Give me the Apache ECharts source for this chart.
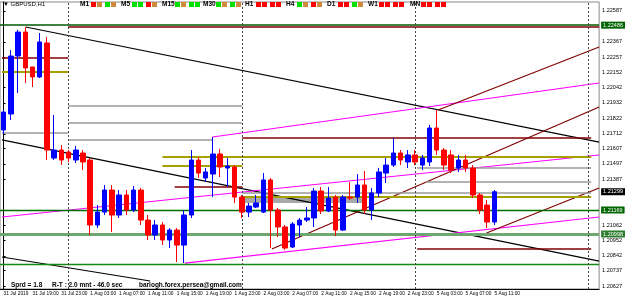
<!DOCTYPE html>
<html>
<head>
<meta charset="utf-8">
<script src="https://cdn.jsdelivr.net/npm/echarts@6/dist/echarts.min.js"></script>
<style>
html,body{margin:0;padding:0;background:#fff}
#chart{width:625px;height:299px}
</style>
</head>
<body>
<div id="chart"></div>
<script>
// GBPUSD H1, 31 Jul 15:00 .. 5 Aug 11:00  [open, close, low, high]
var candles = [
  [1.21739, 1.21867, 1.21710, 1.21881],
  [1.21853, 1.22266, 1.21810, 1.22309],
  [1.22266, 1.22437, 1.22003, 1.22452],
  [1.22437, 1.22181, 1.22074, 1.22473],
  [1.22188, 1.22117, 1.22045, 1.22188],
  [1.22117, 1.22366, 1.22109, 1.22430],
  [1.22359, 1.21596, 1.21525, 1.22402],
  [1.21539, 1.21596, 1.21525, 1.21846],
  [1.21596, 1.21525, 1.21489, 1.21632],
  [1.21582, 1.21539, 1.21511, 1.21596],
  [1.21525, 1.21596, 1.21504, 1.21625],
  [1.21575, 1.21511, 1.21454, 1.21596],
  [1.21525, 1.21062, 1.20991, 1.21539],
  [1.21062, 1.21154, 1.21040, 1.21204],
  [1.21154, 1.21311, 1.21133, 1.21347],
  [1.21311, 1.21133, 1.21012, 1.21347],
  [1.21133, 1.21276, 1.21112, 1.21311],
  [1.21276, 1.21169, 1.21133, 1.21311],
  [1.21169, 1.21311, 1.21154, 1.21340],
  [1.21311, 1.21097, 1.21062, 1.21326],
  [1.21097, 1.20991, 1.20955, 1.21133],
  [1.20991, 1.21062, 1.20955, 1.21097],
  [1.21062, 1.20955, 1.20919, 1.21083],
  [1.20955, 1.21026, 1.20898, 1.21040],
  [1.21026, 1.20919, 1.20798, 1.21040],
  [1.20919, 1.21133, 1.20791, 1.21169],
  [1.21133, 1.21525, 1.21112, 1.21596],
  [1.21525, 1.21432, 1.21397, 1.21546],
  [1.21397, 1.21440, 1.21368, 1.21468],
  [1.21425, 1.21568, 1.21261, 1.21689],
  [1.21568, 1.21475, 1.21404, 1.21603],
  [1.21468, 1.21482, 1.21333, 1.21539],
  [1.21475, 1.21261, 1.21219, 1.21489],
  [1.21261, 1.21154, 1.21112, 1.21276],
  [1.21154, 1.21197, 1.21119, 1.21219],
  [1.21190, 1.21219, 1.21183, 1.21276],
  [1.21154, 1.21383, 1.21147, 1.21432],
  [1.21383, 1.21169, 1.20898, 1.21397],
  [1.21169, 1.21048, 1.20976, 1.21183],
  [1.21048, 1.20898, 1.20884, 1.21062],
  [1.20905, 1.21069, 1.20898, 1.21083],
  [1.21062, 1.21097, 1.20976, 1.21112],
  [1.21097, 1.21112, 1.21083, 1.21190],
  [1.21112, 1.21304, 1.21048, 1.21326],
  [1.21304, 1.21162, 1.21140, 1.21333],
  [1.21162, 1.21254, 1.21154, 1.21333],
  [1.21261, 1.21026, 1.20983, 1.21276],
  [1.21026, 1.21261, 1.21019, 1.21276],
  [1.21261, 1.21254, 1.21240, 1.21368],
  [1.21261, 1.21347, 1.21219, 1.21425],
  [1.21347, 1.21169, 1.21140, 1.21447],
  [1.21169, 1.21290, 1.21097, 1.21326],
  [1.21290, 1.21440, 1.21261, 1.21468],
  [1.21432, 1.21489, 1.21361, 1.21539],
  [1.21489, 1.21575, 1.21475, 1.21682],
  [1.21575, 1.21525, 1.21489, 1.21596],
  [1.21511, 1.21561, 1.21468, 1.21596],
  [1.21561, 1.21511, 1.21489, 1.21596],
  [1.21489, 1.21539, 1.21454, 1.21561],
  [1.21511, 1.21753, 1.21482, 1.21775],
  [1.21753, 1.21596, 1.21561, 1.21881],
  [1.21596, 1.21489, 1.21454, 1.21611],
  [1.21561, 1.21454, 1.21432, 1.21596],
  [1.21468, 1.21525, 1.21440, 1.21561],
  [1.21525, 1.21468, 1.21440, 1.21561],
  [1.21468, 1.21276, 1.21254, 1.21489],
  [1.21276, 1.21169, 1.21140, 1.21290],
  [1.21204, 1.21083, 1.21040, 1.21240],
  [1.21083, 1.21299, 1.21062, 1.21311]
];

// trading days shown: [label, first hour, last hour]
var days = [['31 Jul', 15, 23], ['1 Aug', 0, 23], ['2 Aug', 0, 23], ['5 Aug', 0, 11]];
var emptySlots = 14;

var priceTicks = [1.22587, 1.22367, 1.22257, 1.22152, 1.22042, 1.21932, 1.21822, 1.21712,
  1.21607, 1.21497, 1.21387, 1.21062, 1.20952, 1.20842, 1.20737, 1.20627];
var priceMin = 1.20606, priceMax = 1.22651;

// objects drawn on the chart: [startBar, startPrice, endBar, endPrice]
var blackTrend = [[3.06, 1.22473, 82.5, 1.21653], [-0.23, 1.21668, 82.5, 1.20805], [-0.23, 1.20834, 20.3, 1.20663]];
var magentaTrend = [[28.95, 1.21689, 82.5, 1.22074], [-0.23, 1.21119, 82.5, 1.21561], [25.1, 1.20791, 82.5, 1.21119]];
var maroonTrend = [[60.2, 1.21881, 82.5, 1.22330], [37.17, 1.20891, 82.5, 1.21903], [66.9, 1.21005, 82.5, 1.21326]];
// horizontal segments: [startBar, endBar, price]
var maroonLevels = [[8.95, 82.5, 1.22473], [-0.23, 8.95, 1.22252], [33.06, 81.4, 1.21682], [23.7, 33.06, 1.21333], [57.3, 81.4, 1.20891]];
var oliveLevels = [[-0.23, 8.95, 1.22152], [22, 81.4, 1.21546], [22, 33.06, 1.21482], [33.06, 81.4, 1.21261]];
var greyLevels = [[-0.23, 8.95, 1.21717], [8.95, 33.06, 1.21910], [8.95, 33.06, 1.21789], [8.95, 28.95, 1.21668],
  [57.3, 81.4, 1.21468], [58.5, 81.4, 1.21368], [33.06, 81.4, 1.21290]];
var greyBand = [33.06, 50.45, 1.21268, 1.21219];
var daySeparators = [9, 33, 57, 81];
var lastPrice = 1.21299;
var boxedLevels = [1.22486, 1.21169];
var lightGreenLevel = 1.20998;
var plainGreenLevel = 1.20784;

var timeframes = [
  ['M1', ['r', 'o', 'g', 'o']], ['M5', ['g', 'g', 'r', 'o']], ['M15', ['g', 'o', 'g', 'g']],
  ['M30', ['g', 'o', 'g', 'o']], ['H1', ['r', 'r', 'r', 'r']], ['H4', ['g', 'o', 'r', 'o']],
  ['D1', ['r', 'r', 'g', 'o']], ['W1', ['r', 'r', 'r', 'r']], ['MN', ['r', 'r', 'r', 'r']]
];

var categories = [];
days.forEach(function (d) {
  for (var h = d[1]; h <= d[2]; h++) {
    categories.push(d[0] + ' ' + (h < 10 ? '0' + h : h) + ':00');
  }
});
categories[0] = '31 Jul 2019';
for (var k = 0; k < emptySlots; k++) categories.push('');
var nSlots = categories.length;

var chart = echarts.init(document.getElementById('chart'));
var font = 'Liberation Sans';

function segSeries(seg, color, width) {
  return {
    type: 'line', xAxisIndex: 1, yAxisIndex: 0, silent: true, symbol: 'none', animation: false,
    data: [[seg[0], seg[1]], [seg[2], seg[3]]],
    lineStyle: { color: color, width: width || 1 }, z: 3
  };
}
function levelSeries(seg, color, width) {
  return segSeries([seg[0], seg[2], seg[1], seg[2]], color, width);
}

var boxLabel = function (bg) {
  return {
    show: true, position: 'end', distance: 2, formatter: function (p) { return Number(p.value).toFixed(5); },
    color: '#fff', backgroundColor: bg, padding: [1, 2, 0, 2], fontSize: 5.5, fontFamily: font
  };
};

var series = [{
  type: 'candlestick',
  data: candles,
  barWidth: 5,
  z: 5,
  itemStyle: {
    color: '#0000ff', color0: '#ff0000',
    borderColor: '#0000ff', borderColor0: '#ff0000', borderWidth: 1
  },
  markLine: {
    symbol: 'none', silent: true, animation: false, precision: 5,
    data: [
      { yAxis: boxedLevels[0], lineStyle: { color: '#005a00', width: 1.5, type: 'solid' }, label: boxLabel('#006400') },
      { yAxis: boxedLevels[1], lineStyle: { color: '#007000', width: 1.3, type: 'solid' }, label: boxLabel('#006400') },
      { yAxis: lightGreenLevel, lineStyle: { color: '#6fa86f', width: 3, type: 'solid' }, label: boxLabel('#2e7d2e') },
      { yAxis: plainGreenLevel, lineStyle: { color: '#138a13', width: 1.3, type: 'solid' }, label: { show: false } },
      { yAxis: lastPrice, lineStyle: { color: 'rgba(0,0,0,0)', width: 0 }, label: boxLabel('#000000') }
    ]
  },
  markArea: {
    silent: true,
    itemStyle: { color: '#a8a8a8' },
    data: [[{ xAxis: categories[33], yAxis: greyBand[2] }, { xAxis: categories[50], yAxis: greyBand[3] }]]
  }
}, {
  type: 'line', xAxisIndex: 1, data: [], silent: true,
  markLine: {
    symbol: 'none', silent: true, animation: false, label: { show: false },
    lineStyle: { color: '#444', type: [2, 2], width: 1 },
    data: daySeparators.map(function (b) { return { xAxis: b }; })
  }
}];

blackTrend.forEach(function (s) { series.push(segSeries(s, '#000000', 1.2)); });
magentaTrend.forEach(function (s) { series.push(segSeries(s, '#ff00ff', 1.2)); });
maroonTrend.forEach(function (s) { series.push(segSeries(s, '#800000', 1.2)); });
maroonLevels.forEach(function (s) { series.push(levelSeries(s, '#800000', 1.5)); });
oliveLevels.forEach(function (s) { series.push(levelSeries(s, '#a6a000', 2)); });
greyLevels.forEach(function (s) { series.push(levelSeries(s, '#9a9a9a', 1.5)); });

var graphics = [
  { type: 'text', left: 3, top: 1, style: { text: '\u25BC GBPUSD,H1', fontSize: 6, fontFamily: font, fill: '#000' } }
];
var tfX = [80, 121, 162, 203, 245, 286, 327, 368, 410];
var sqColors = { r: '#ff0000', o: '#d08a3c', g: '#00e000' };
timeframes.forEach(function (tf, n) {
  var x0 = tfX[n];
  graphics.push({ type: 'text', left: x0, top: 1, style: { text: tf[0], fontSize: 6.5, fontWeight: 'bold', fontFamily: font, fill: '#000' } });
  var sx = x0 + (tf[0].length > 2 ? 13 : 11);
  tf[1].forEach(function (c, j) {
    graphics.push({ type: 'rect', shape: { x: sx + j * 6 + (j > 1 ? 2 : 0), y: 2, width: 5, height: 5 }, style: { fill: sqColors[c] } });
  });
});
graphics.push({ type: 'text', left: 11, top: 282, style: { text: 'Sprd = 1.8', fontSize: 6.5, fontWeight: 'bold', fontFamily: font, fill: '#000' } });
graphics.push({ type: 'text', left: 52, top: 282, style: { text: 'R-T : 2.0 mnt - 46.0 sec', fontSize: 6.5, fontWeight: 'bold', fontFamily: font, fill: '#000' } });
graphics.push({ type: 'text', left: 139, top: 282, style: { text: 'barlogh.forex.persea@gmail.com', fontSize: 6.5, fontWeight: 'bold', fontFamily: font, fill: '#000' } });

var tickEvery4 = function (i) { return i % 4 === 0 && i < 69; };

var option = {
  animation: false,
  backgroundColor: '#ffffff',
  grid: { left: -2, right: 21, top: 2, bottom: 10, show: true, borderColor: '#888', borderWidth: 1 },
  xAxis: [{
    type: 'category', data: categories, boundaryGap: true,
    axisLine: { lineStyle: { color: '#000' } },
    axisTick: { alignWithLabel: true, length: 2, interval: tickEvery4, lineStyle: { color: '#000' } },
    axisLabel: {
      interval: tickEvery4, hideOverlap: false,
      align: 'left', margin: 2, fontSize: 4.8, fontFamily: font, color: '#000'
    },
    splitLine: { show: false }
  }, {
    type: 'value', min: -0.5, max: nSlots - 0.5, show: false
  }],
  yAxis: {
    type: 'value', position: 'right', min: priceMin, max: priceMax, scale: true,
    axisLine: { show: true, lineStyle: { color: '#000' } },
    axisTick: { show: true, length: 2, customValues: priceTicks, lineStyle: { color: '#000' } },
    axisLabel: {
      customValues: priceTicks, margin: 3, fontSize: 5.5, fontFamily: font, color: '#000',
      formatter: function (v) { return v.toFixed(5); }
    },
    splitLine: { show: false }
  },
  graphic: graphics,
  series: series
};
chart.setOption(option);
</script>
</body>
</html>
